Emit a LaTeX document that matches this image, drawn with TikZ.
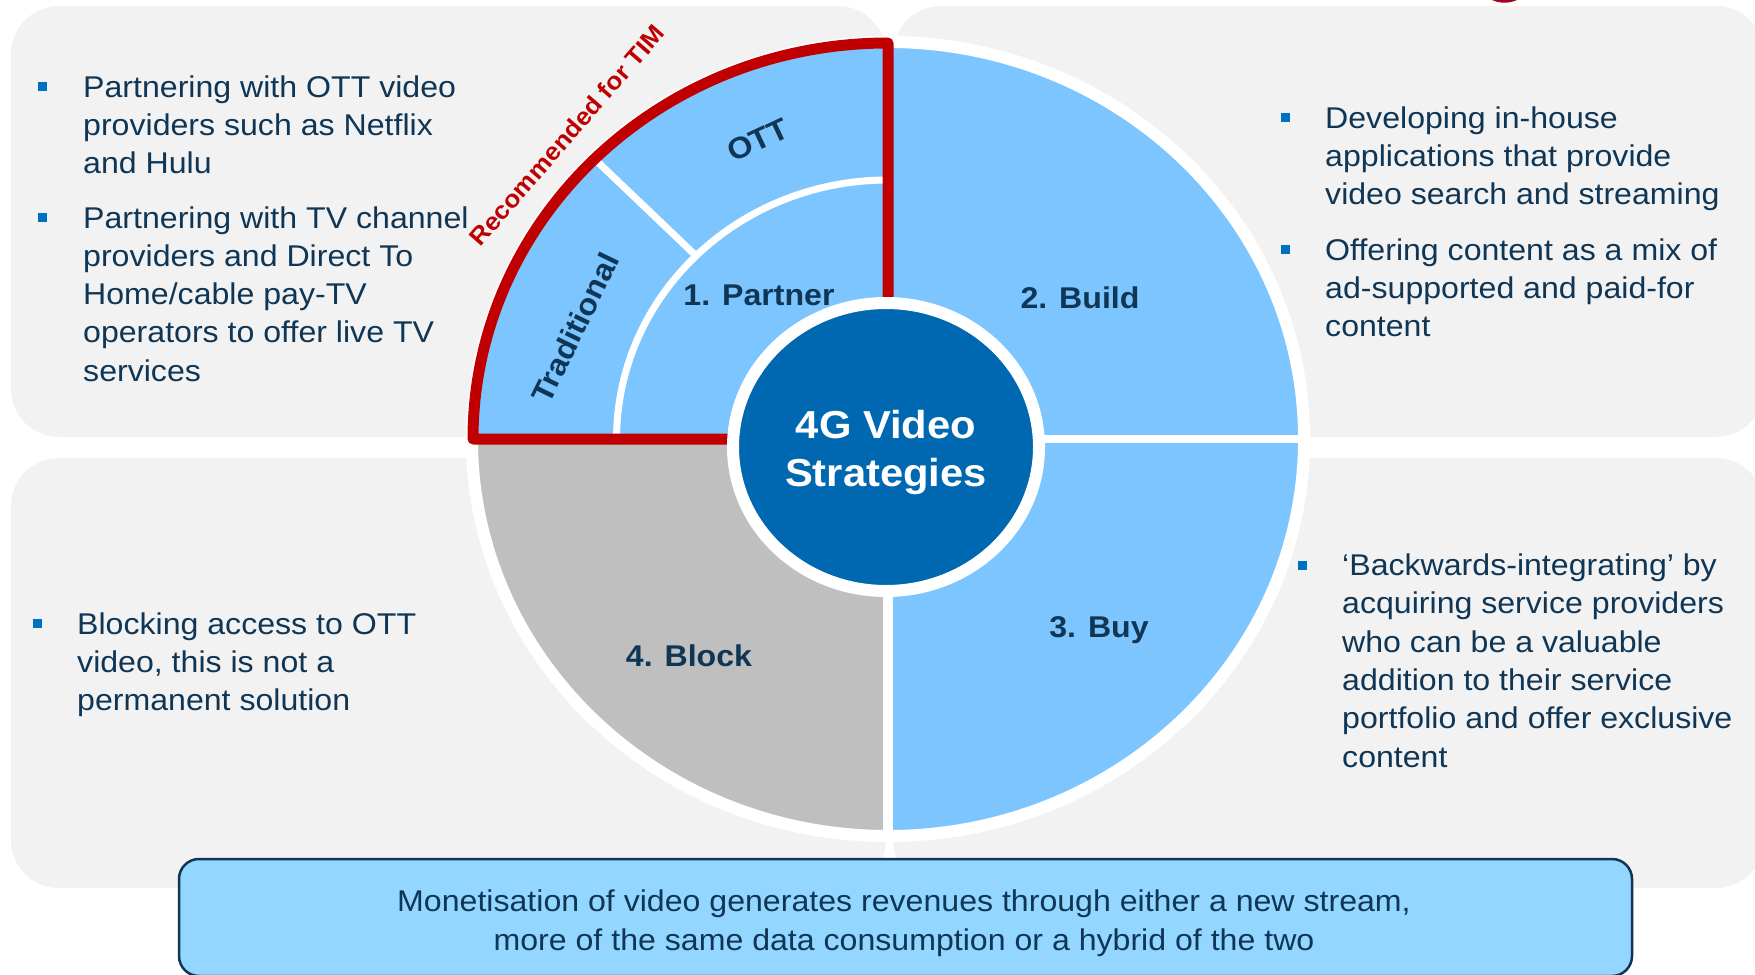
\documentclass[tikz,border=0pt]{standalone}
\usepackage{fontspec}
\setmainfont{Liberation Sans}[FakeStretch=1.07]
\definecolor{panelgray}{HTML}{F2F2F2}
\definecolor{qblue}{RGB}{124,197,255}
\definecolor{qgray}{HTML}{BFBFBF}
\definecolor{cblue}{RGB}{0,103,177}
\definecolor{navy}{RGB}{16,54,86}
\definecolor{tred}{HTML}{C00000}
\definecolor{boxblue}{RGB}{147,214,255}
\definecolor{bulletblue}{HTML}{0070C0}
\definecolor{dotred}{HTML}{A50021}
\begin{document}
\begin{tikzpicture}[x=1pt,y=1pt,
  txt/.style={font=\fontsize{30}{38.3}\selectfont, text=navy, inner sep=0, align=left, anchor=base west},
  bsq/.style={fill=bulletblue, minimum size=9, inner sep=0},
  lbl/.style={font=\fontsize{30}{36}\selectfont\bfseries, text=navy, inner sep=0},
  panel/.style={fill=panelgray, rounded corners=48},
  sep/.style={draw=white, line width=7},
  ]
\useasboundingbox (0,0) rectangle (1755,-974);
\clip (0,0) rectangle (1755,-974);
% background panels
\path[panel] (11,-6) rectangle (886,-437);
\path[panel] (893,-6) rectangle (1764,-437);
\path[panel] (11,-458) rectangle (886,-888);
\path[panel] (893,-458) rectangle (1764,-888);
% logo dot at top
\fill[dotred] (1504.5,27.3) circle (30);
% pie
\begin{scope}[shift={(888,-439)}, xscale=1.048]
  \fill[qblue] (0,0) -- (90:397) arc[start angle=90, end angle=0, radius=397] -- cycle;
  \fill[qblue] (0,0) -- (0:397) arc[start angle=0, end angle=-90, radius=397] -- cycle;
  \fill[qgray] (0,0) -- (180:397) arc[start angle=180, end angle=270, radius=397] -- cycle;
  \fill[qblue] (0,0) -- (90:397) arc[start angle=90, end angle=180, radius=397] -- cycle;
  \draw[white, line width=12] (0,0) circle (397);
  \draw[white, line width=10] (0,-400) -- (0,400);
  \draw[white, line width=8] (-400,0) -- (400,0);
  \draw[sep] (90:259) arc[start angle=90, end angle=180, radius=259];
  \draw[sep] (135:259) -- (135:397);
  \draw[tred, line width=11, line join=round] (0,120) -- (0,396)
     arc[start angle=90, end angle=180, radius=396] -- (-120,0);
\end{scope}
% centre
\draw[white, line width=12, fill=cblue] (886,-447) ellipse [x radius=153, y radius=144];
\node[font=\fontsize{39}{48.7}\selectfont\bfseries, text=white, align=center, anchor=base, inner sep=0] (centre) at (886,-486.7) {4G Video\\Strategies};
% segment labels
\node[lbl, anchor=base] (partner) at (759,-305) {1. Partner};
\node[lbl, anchor=base] (build) at (1080,-308) {2. Build};
\node[lbl, anchor=base] (buy) at (1099,-637) {3. Buy};
\node[lbl, anchor=base] (block) at (689,-666) {4. Block};
\node[lbl, rotate=25] (ott) at (758,-140) {OTT};
\node[lbl, rotate=64] (trad) at (575,-328) {Traditional};
\node[font=\fontsize{24.5}{26}\selectfont\bfseries, text=tred, rotate=49, inner sep=0] (rec) at (567,-135) {Recommended for TIM};
% top-left bullets
\node[bsq] (tlb1) at (42,-86.5) {};
\node[txt] (tlt1) at (83,-173.6) {Partnering with OTT video\\providers such as Netflix\\and Hulu};
\node[bsq] (tlb2) at (42,-217.5) {};
\node[txt] (tlt2) at (83,-381.2) {Partnering with TV channel\\providers and Direct To\\Home/cable pay-TV\\operators to offer live TV\\services};
% top-right bullets
\node[bsq] (trb1) at (1285,-117.5) {};
\node[txt] (trt1) at (1325,-204.6) {Developing in-house\\applications that provide\\video search and streaming};
\node[bsq] (trb2) at (1285,-249.6) {};
\node[txt] (trt2) at (1325,-336.6) {Offering content as a mix of\\ad-supported and paid-for\\content};
% bottom-left bullet
\node[bsq] (blb1) at (37,-623.5) {};
\node[txt] (blt1) at (77,-710.6) {Blocking access to OTT\\video, this is not a\\permanent solution};
% bottom-right bullet
\node[bsq] (brb1) at (1302,-565) {};
\node[txt] (brt1) at (1342,-767) {‘Backwards-integrating’ by\\acquiring service providers\\who can be a valuable\\addition to their service\\portfolio and offer exclusive\\content};
% bottom box
\draw[navy, line width=2.5, fill=boxblue, rounded corners=20] (179,-859) rectangle (1632,-976);
\node[font=\fontsize{30}{38.3}\selectfont, text=navy, align=center, anchor=base, inner sep=0] (summary) at (904,-950) {Monetisation of video generates revenues through either a new stream,\\more of the same data consumption or a hybrid of the two};
\end{tikzpicture}
\end{document}
